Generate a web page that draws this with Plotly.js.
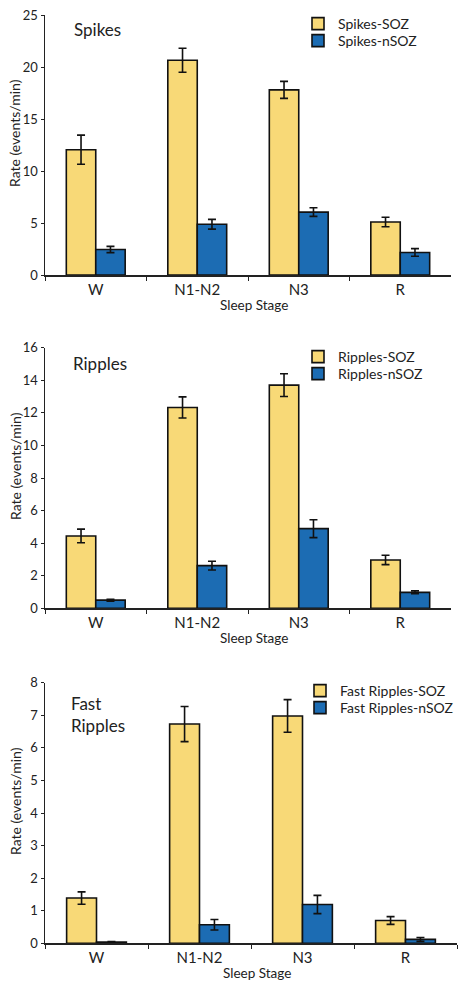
<!DOCTYPE html>
<html>
<head>
<meta charset="utf-8">
<script src="https://cdn.plot.ly/plotly-3.0.1.min.js"></script>
<style>html,body{margin:0;padding:0;background:#fff;}#chart{width:467px;height:991px;}</style>
</head>
<body>
<div id="chart"></div>
<script>
const stages = ['W', 'N1-N2', 'N3', 'R'];

const spikesSOZ = [12.05, 20.65, 17.8, 5.1];
const spikesSOZErr = [1.4, 1.15, 0.82, 0.46];
const spikesNSOZ = [2.45, 4.88, 6.05, 2.17];
const spikesNSOZErr = [0.3, 0.47, 0.41, 0.37];

const ripplesSOZ = [4.44, 12.33, 13.7, 2.97];
const ripplesSOZErr = [0.42, 0.65, 0.7, 0.29];
const ripplesNSOZ = [0.5, 2.62, 4.89, 0.98];
const ripplesNSOZErr = [0.06, 0.27, 0.55, 0.09];

const fastSOZ = [1.39, 6.73, 6.98, 0.7];
const fastSOZErr = [0.19, 0.54, 0.5, 0.12];
const fastNSOZ = [0.04, 0.57, 1.19, 0.12];
const fastNSOZErr = [0.01, 0.16, 0.28, 0.06];

const panelTitles = ['Spikes', 'Ripples', 'Fast<br>Ripples'];
const xTitle = 'Sleep Stage';
const yTitle = 'Rate (events/min)';

const yellow = '#F8D977';
const blue = '#1C6CB3';
const FONT = 'Lato, "Open Sans", sans-serif';
const INK = '#222';

function barTrace(name, y, err, color, xa, ya, lg) {
  return {
    type: 'bar', name: name, x: stages, y: y,
    xaxis: xa, yaxis: ya, legend: lg,
    marker: {color: color, line: {color: '#111', width: 1.6}},
    error_y: {type: 'data', array: err, visible: true, color: '#111', thickness: 1.6, width: 4},
    hoverinfo: 'skip'
  };
}

const data = [
  barTrace('Spikes-SOZ', spikesSOZ, spikesSOZErr, yellow, 'x', 'y', 'legend'),
  barTrace('Spikes-nSOZ', spikesNSOZ, spikesNSOZErr, blue, 'x', 'y', 'legend2'),
  barTrace('Ripples-SOZ', ripplesSOZ, ripplesSOZErr, yellow, 'x2', 'y2', 'legend3'),
  barTrace('Ripples-nSOZ', ripplesNSOZ, ripplesNSOZErr, blue, 'x2', 'y2', 'legend4'),
  barTrace('Fast Ripples-SOZ', fastSOZ, fastSOZErr, yellow, 'x3', 'y3', 'legend5'),
  barTrace('Fast Ripples-nSOZ', fastNSOZ, fastNSOZErr, blue, 'x3', 'y3', 'legend6')
];

const H = 991, W = 467;
const py = p => 1 - p / H;
const pxx = p => p / W;

function xAxis(anchor, d0, d1) {
  return {
    domain: [pxx(d0), pxx(d1)], anchor: anchor, type: 'category',
    showline: true, linecolor: INK, linewidth: 1.5,
    ticks: 'outside', tickson: 'boundaries', ticklen: 4, tickcolor: INK, tickwidth: 1,
    showgrid: false, zeroline: false,
    tickfont: {family: FONT, size: 15, color: INK},
    fixedrange: true
  };
}
function yAxis(anchor, top, bottom, maxv, dt) {
  return {
    domain: [py(bottom), py(top)], anchor: anchor, range: [0, maxv], dtick: dt,
    showline: true, linecolor: INK, linewidth: 1.5,
    ticks: 'outside', ticklen: 3, tickcolor: INK, tickwidth: 1,
    showgrid: false, zeroline: false,
    tickfont: {family: FONT, size: 13, color: INK},
    fixedrange: true
  };
}
function legendAt(top, x) {
  return {
    x: pxx(x), y: py(top), xanchor: 'left', yanchor: 'middle',
    bgcolor: 'rgba(0,0,0,0)', borderwidth: 0, tracegroupgap: 0,
    font: {family: FONT, size: 14, color: INK}
  };
}
function txt(text, x, y, size, extra) {
  return Object.assign({text: text, xref: 'paper', yref: 'paper', x: pxx(x), y: py(y),
    xanchor: 'center', yanchor: 'middle', showarrow: false,
    font: {family: FONT, size: size, color: INK}}, extra || {});
}

// panel geometry (pixels): [top, bottom, left, right]
const panels = [[15, 275, 45, 451], [347.7, 608.3, 45, 451], [682.7, 943.3, 45, 457]];

const annotations = [];
panels.forEach((p, i) => {
  annotations.push(txt(yTitle, 15, (p[0] + p[1]) / 2 - 12, 14, {textangle: -90}));
  annotations.push(txt(xTitle, (p[2] + p[3]) / 2 + 6, p[1] + 30, 13.5));
});
annotations.push(txt(panelTitles[0], 72, 30, 17, {xanchor: 'left'}));
annotations.push(txt(panelTitles[1], 71, 363, 17, {xanchor: 'left'}));
annotations.push(txt(panelTitles[2], 69, 714, 17, {xanchor: 'left', align: 'left'}));

const layout = {
  width: W, height: H,
  margin: {l: 0, r: 0, t: 0, b: 0},
  paper_bgcolor: '#fff', plot_bgcolor: '#fff',
  font: {family: FONT},
  barmode: 'group', bargap: 0.42, bargroupgap: 0,
  showlegend: true,
  xaxis: xAxis('y', panels[0][2], panels[0][3]),
  yaxis: yAxis('x', panels[0][0], panels[0][1], 25, 5),
  xaxis2: xAxis('y2', panels[1][2], panels[1][3]),
  yaxis2: yAxis('x2', panels[1][0], panels[1][1], 16, 2),
  xaxis3: xAxis('y3', panels[2][2], panels[2][3]),
  yaxis3: yAxis('x3', panels[2][0], panels[2][1], 8, 1),
  legend: legendAt(24, 298),
  legend2: legendAt(41, 298),
  legend3: legendAt(357, 298),
  legend4: legendAt(374, 298),
  legend5: legendAt(691, 300),
  legend6: legendAt(708, 300),
  annotations: annotations
};

Plotly.newPlot('chart', data, layout, {displayModeBar: false, staticPlot: true});
</script>
</body>
</html>
